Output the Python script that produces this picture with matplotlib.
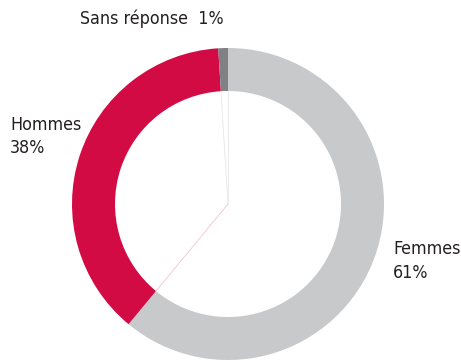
import numpy as np
import matplotlib.pyplot as plt

# Répartition des répondants
labels = ['Femmes', 'Hommes', 'Sans réponse']
shares = [61, 38, 1]
colors = ['#c8c9cb', '#d30b45', '#7f8184']

plt.rcParams['font.family'] = ['DejaVu Sans']

fig = plt.figure(figsize=(4.61, 3.60), dpi=100)
ax = fig.add_axes([0, 0, 1, 1])
ax.set_xlim(0, 461)
ax.set_ylim(0, 360)
ax.set_aspect('equal')
ax.axis('off')

cx, cy = 228, 156
r_out, r_in = 156, 113

ax.pie(shares, colors=colors, center=(cx, cy), radius=r_out,
       startangle=90, counterclock=False,
       wedgeprops=dict(width=r_out - r_in, linewidth=0))

# fines lignes du centre vers les limites des secteurs
bounds = np.cumsum([0] + shares[:-1]) / 100 * 360
for b, col in zip(bounds, ['#e6e6e6', '#f2c3cf', '#e6e6e6']):
    a = np.deg2rad(90 - b)
    ax.plot([cx, cx + r_in * np.cos(a)], [cy, cy + r_in * np.sin(a)],
            color=col, lw=0.6)

ax.set_xlim(0, 461)
ax.set_ylim(0, 360)

txt = dict(fontsize=12.8, color='#231f20', ha='left', va='center', fontstretch='condensed')
ax.text(80, 341, f'Sans réponse  {shares[2]}%', **txt)
ax.text(10, 235, labels[1], **txt)
ax.text(10, 212, f'{shares[1]}%', **txt)
ax.text(393, 111, labels[0], **txt)
ax.text(393, 87, f'{shares[0]}%', **txt)

fig.savefig('out.png', dpi=100)
